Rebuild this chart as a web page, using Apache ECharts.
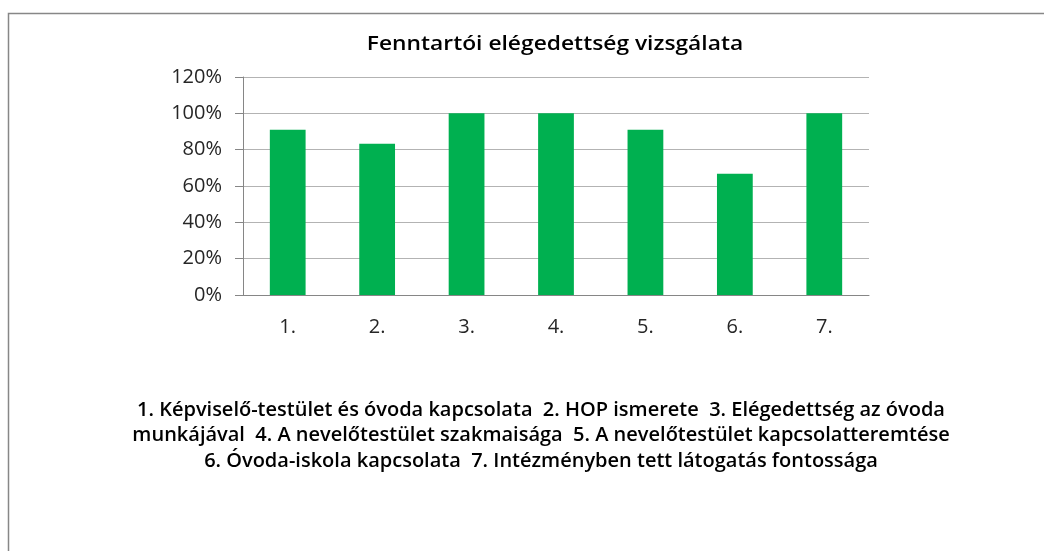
<!DOCTYPE html>
<html>
<head>
    <meta charset="utf-8">
    <title>Fenntartói elégedettség</title>
    <script src="https://cdn.jsdelivr.net/npm/echarts@6/dist/echarts.min.js"></script>
    <style>
        html, body { margin: 0; padding: 0; background: #fff; }
        #main { width: 1044px; height: 551px; }
    </style>
</head>
<body>
    <div id="main"></div>
    <script type="text/javascript">
        // adatok
        var categories = ['1.', '2.', '3.', '4.', '5.', '6.', '7.'];
        var values = [0.909, 0.833, 1.0, 1.0, 0.909, 0.667, 1.0];
        var yTicks = [0, 0.2, 0.4, 0.6, 0.8, 1.0, 1.2];
        var descriptions = [
            'Képviselő-testület és óvoda kapcsolata',
            'HOP ismerete',
            'Elégedettség az óvoda munkájával',
            'A nevelőtestület szakmaisága',
            'A nevelőtestület kapcsolatteremtése',
            'Óvoda-iskola kapcsolata',
            'Intézményben tett látogatás fontossága'
        ];
        var chartTitle = 'Fenntartói elégedettség vizsgálata';

        var font = 'Open Sans';

        // jelmagyarázat szöveg sorokba tördelve (a 3. tétel két sorra törik)
        var items = descriptions.map(function (d, i) { return categories[i] + ' ' + d; });
        var third = items[2].split(' munkájával');
        var captionLines = [
            items[0] + '  ' + items[1] + '  ' + third[0],
            'munkájával  ' + items[3] + '  ' + items[4],
            items[5] + '  ' + items[6]
        ];

        var myChart = echarts.init(document.getElementById('main'));

        var option = {
            animation: false,
            textStyle: { fontFamily: font },
            grid: { left: 243, right: 175, top: 77, bottom: 256 },
            graphic: [
                {
                    type: 'rect',
                    shape: { x: 8.5, y: 13.5, width: 1100, height: 600 },
                    style: { fill: 'none', stroke: '#878787', lineWidth: 1.5 },
                    silent: true
                },
                {
                    type: 'text',
                    x: 555, y: 45,
                    scaleX: 1.2,
                    style: {
                        text: chartTitle,
                        fontFamily: font, fontSize: 19, fontWeight: 600,
                        fill: '#000', align: 'center', verticalAlign: 'middle'
                    }
                },
                {
                    type: 'text',
                    x: 541, y: 435.5,
                    style: {
                        text: captionLines.join('\n'),
                        fontFamily: font, fontSize: 20, fontWeight: 600, lineHeight: 25.5,
                        fill: '#000', align: 'center', verticalAlign: 'middle'
                    }
                }
            ],
            xAxis: {
                type: 'category',
                data: categories,
                axisLine: { lineStyle: { color: '#868686' } },
                axisTick: { show: false },
                axisLabel: { color: '#262626', fontSize: 20, margin: 22 }
            },
            yAxis: {
                type: 'value',
                min: 0, max: 1.2, interval: 0.2,
                axisLine: { show: true, lineStyle: { color: '#868686' } },
                axisTick: { show: true, length: 8, lineStyle: { color: '#868686' } },
                splitLine: { lineStyle: { color: '#b3b3b3' } },
                axisLabel: {
                    color: '#262626', fontSize: 20, margin: 21,
                    formatter: function (v) { return Math.round(v * 100) + '%'; }
                }
            },
            series: [{
                type: 'bar',
                data: values,
                barWidth: '40%',
                itemStyle: { color: '#00b050' }
            }]
        };

        myChart.setOption(option);
    </script>
</body>
</html>
